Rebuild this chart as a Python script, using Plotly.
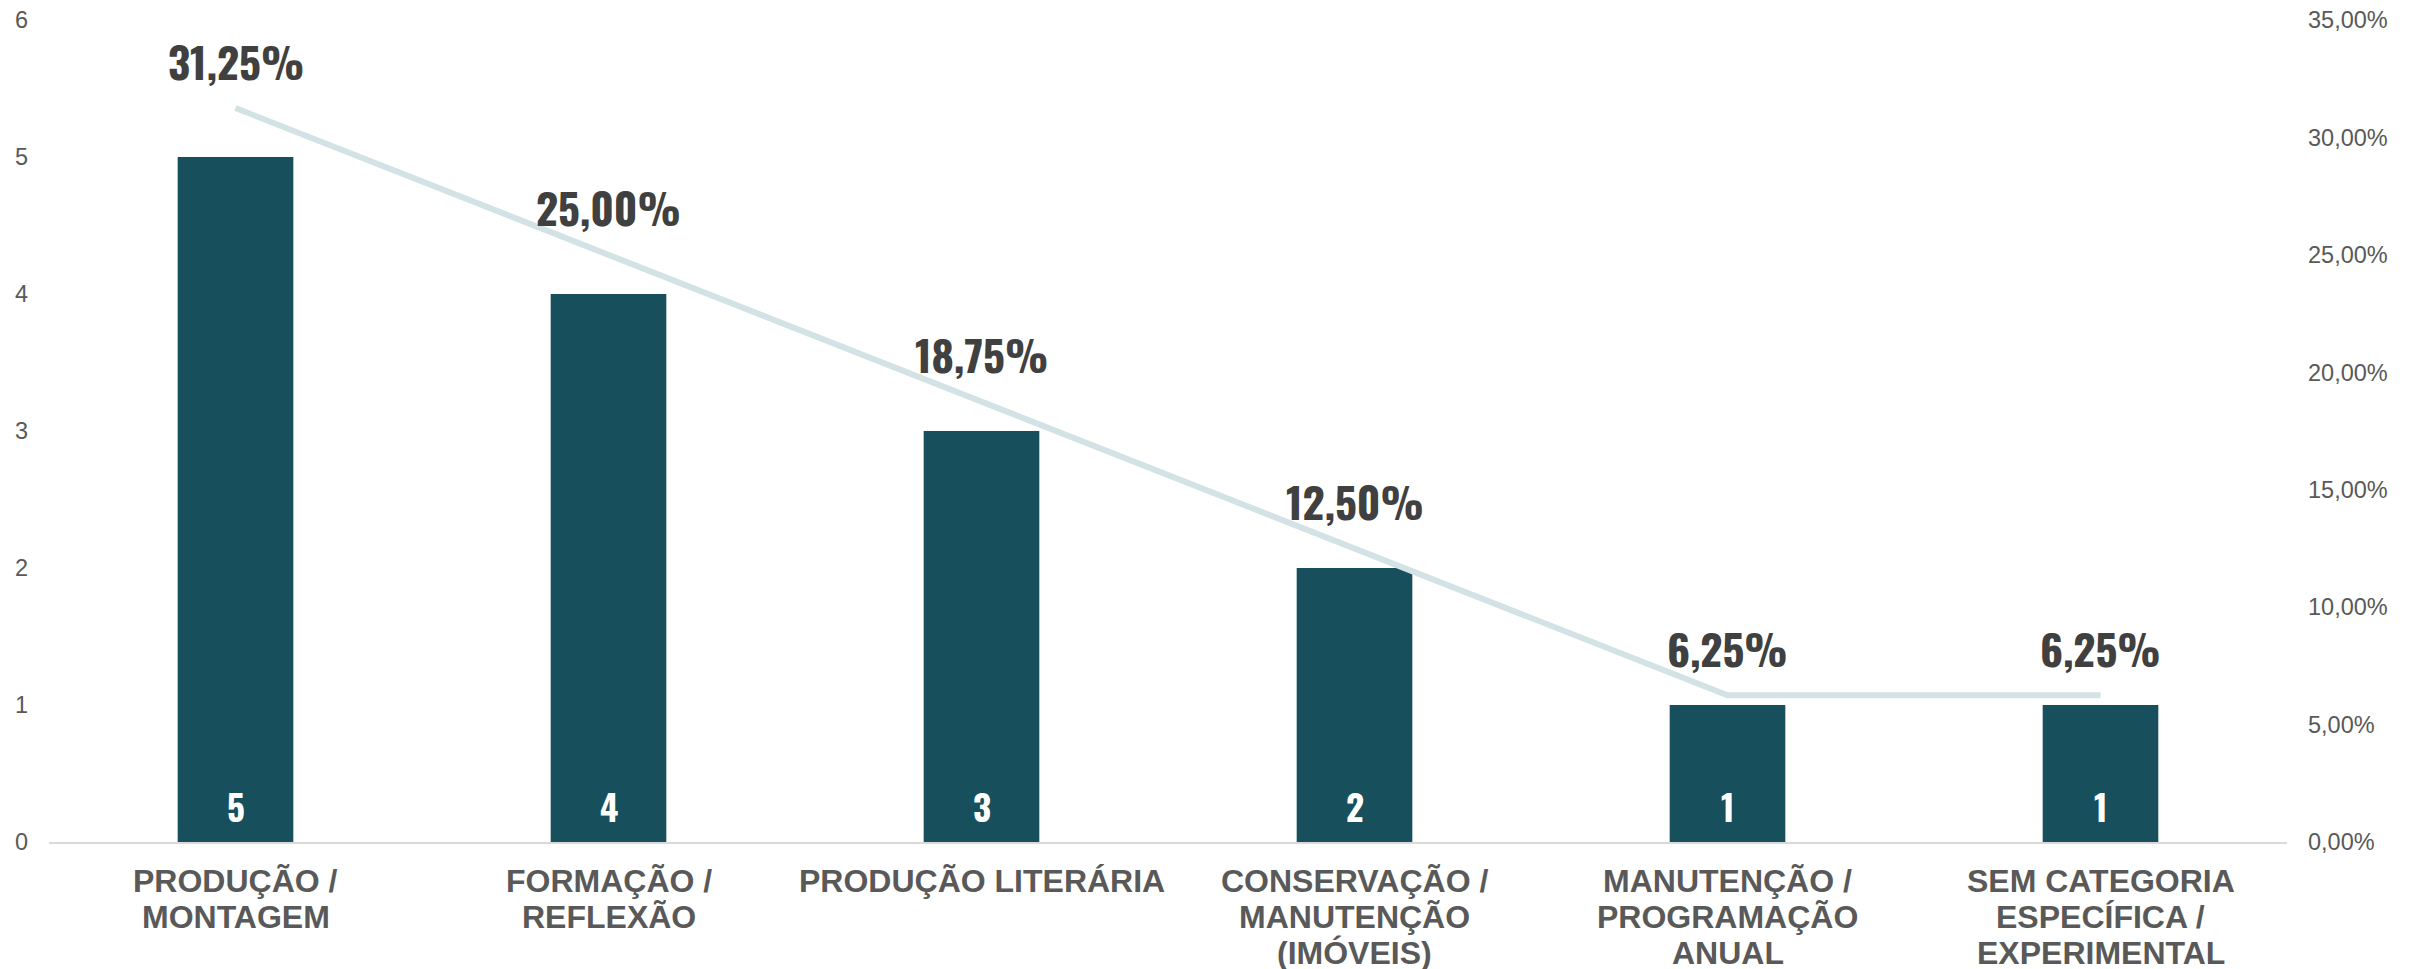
import plotly.graph_objects as go

categories = ["PRODUÇÃO / MONTAGEM", "FORMAÇÃO / REFLEXÃO", "PRODUÇÃO LITERÁRIA",
              "CONSERVAÇÃO / MANUTENÇÃO (IMÓVEIS)", "MANUTENÇÃO / PROGRAMAÇÃO ANUAL",
              "SEM CATEGORIA ESPECÍFICA / EXPERIMENTAL"]
label_lines = [["PRODUÇÃO /", "MONTAGEM"], ["FORMAÇÃO /", "REFLEXÃO"], ["PRODUÇÃO LITERÁRIA"],
               ["CONSERVAÇÃO /", "MANUTENÇÃO", "(IMÓVEIS)"],
               ["MANUTENÇÃO /", "PROGRAMAÇÃO", "ANUAL"],
               ["SEM CATEGORIA", "ESPECÍFICA /", "EXPERIMENTAL"]]
counts = [5, 4, 3, 2, 1, 1]
shares = [0.3125, 0.25, 0.1875, 0.125, 0.0625, 0.0625]
share_labels = ["31,25%", "25,00%", "18,75%", "12,50%", "6,25%", "6,25%"]

COND = "Oswald, 'Bebas Neue', 'Liberation Sans Narrow', 'DejaVu Sans Condensed', sans-serif"
AX_FONT = "Arial, 'Liberation Sans', sans-serif"

fig = go.Figure()
fig.add_trace(go.Bar(x=categories, y=counts, marker=dict(color="#174F5C", line=dict(width=0)),
                     width=0.31, yaxis="y", showlegend=False, hoverinfo="skip"))
fig.add_trace(go.Scatter(x=categories, y=shares, yaxis="y2", mode="lines",
                         line=dict(color="#D3E2E4", width=6), showlegend=False, hoverinfo="skip"))

annotations = []
for c, v, t in zip(categories, shares, share_labels):
    annotations.append(dict(x=c, y=v, xref="x", yref="y2", text=t, showarrow=False,
                            yanchor="middle", yshift=48,
                            font=dict(family=COND, size=43, color="#404040", weight="bold")))
for c, n in zip(categories, counts):
    annotations.append(dict(x=c, y=0, xref="x", yref="y", text=str(n), showarrow=False,
                            yanchor="middle", yshift=36,
                            font=dict(family=COND, size=35, color="white", weight="bold")))
for c, lines in zip(categories, label_lines):
    for i, ln in enumerate(lines):
        annotations.append(dict(x=c, y=0, xref="x", yref="paper", text=ln, showarrow=False,
                                yanchor="middle", yshift=-(38.5 + i * 36.2), borderpad=0,
                                font=dict(family=AX_FONT, size=32, color="#595959", weight="bold")))

fig.update_layout(
    width=2415, height=969,
    margin=dict(l=49, r=128, t=20, b=127),
    plot_bgcolor="white", paper_bgcolor="white",
    separators=",.",
    annotations=annotations,
    xaxis=dict(showticklabels=False, automargin=False,
               showline=True, linecolor="#D9D9D9", linewidth=2, showgrid=False, ticks=""),
    yaxis=dict(range=[0, 6], dtick=1, showgrid=False, zeroline=False, showline=False, automargin=False,
               tickfont=dict(family=AX_FONT, size=23.5, color="#595959"), ticklabelstandoff=20),
    yaxis2=dict(range=[0, 0.35], dtick=0.05, tickformat=".2%", overlaying="y", side="right",
                showgrid=False, zeroline=False, showline=False, automargin=False,
                tickfont=dict(family=AX_FONT, size=23.5, color="#595959"), ticklabelstandoff=20),
)

# remove the browser's default 8px body margin so the figure fills the window exactly
fig.write_html("out.html", config={"displayModeBar": False},
               post_script="document.body.style.margin='0px';")
